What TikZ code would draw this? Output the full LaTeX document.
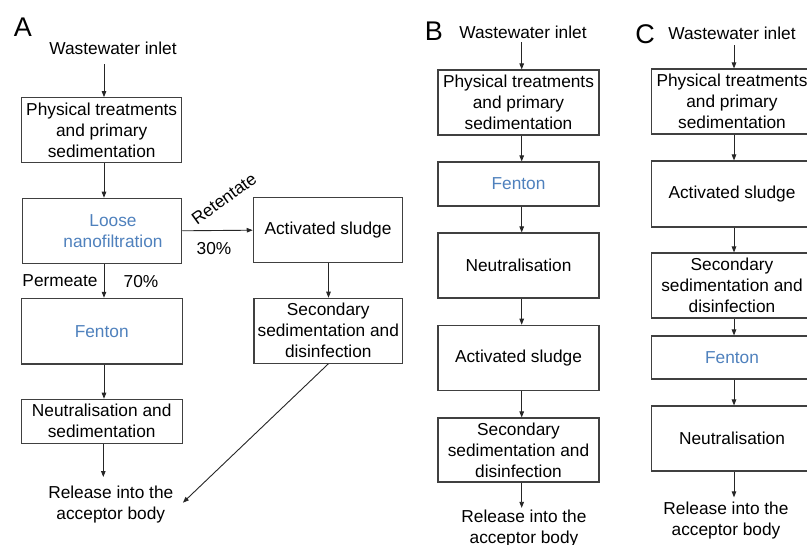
\documentclass[tikz,border=0pt]{standalone}
\usepackage{fontspec}
\setmainfont{Liberation Sans}
\usetikzlibrary{arrows.meta}
\definecolor{nfblue}{RGB}{79,129,189}
\begin{document}
\begin{tikzpicture}[x=1pt,y=-1pt,
  every node/.style={font=\fontsize{17.3}{21}\selectfont, inner sep=0pt, align=center},
  box/.style={draw=black!75, line width=1.1pt, rectangle},
  lbl/.style={font=\fontsize{27}{30}\selectfont},
  blue/.style={text=nfblue},
  arr/.style={-{Triangle[length=6pt,width=4.5pt]}, line width=0.9pt, draw=black!85}]
\useasboundingbox (0,0) rectangle (807,545);
\clip (0,0) rectangle (807,545);
\fill[white] (0,0) rectangle (807,545);

% ---------------- Panel A ----------------
\node[lbl] (labA) at (23,27.5) {A};
\node (inA) at (113,48) {Wastewater inlet};
\node[box, minimum width=160pt, minimum height=65pt] (A1) at (101.7,130.2) {Physical treatments\\and primary\\sedimentation};
\node[box, minimum width=159.4pt, minimum height=65pt] (A2) at (102,230.8) {};
\node[blue] (nfA) at (113,231.5) {Loose\\nanofiltration};
\node[box, minimum width=149.4pt, minimum height=65pt] (A3) at (328,230.2) {Activated sludge};
\node[box, minimum width=148.7pt, minimum height=65pt] (A4) at (328.3,330.8) {Secondary\\sedimentation and\\disinfection};
\node[box, minimum width=161.3pt, minimum height=65.7pt, blue] (A5) at (101.7,331.2) {Fenton};
\node[box, minimum width=161.3pt, minimum height=44pt] (A6) at (101.7,421.3) {Neutralisation and\\sedimentation};
\node (relA) at (110.8,505) {Release into the\\acceptor body};
\node[rotate=36] (retA) at (224,199) {Retentate};
\node (p30) at (214,249) {30\%};
\node (perm) at (60,281) {Permeate};
\node (p70) at (141,281.7) {70\%};

\draw[arr] ([xshift=-9pt,yshift=-9.7pt]inA.south) -- ([xshift=2.3pt]A1.north);
\draw[arr] ([xshift=2.3pt]A1.south) -- ([xshift=2pt]A2.north);
\draw[arr] (A2.east) -- (A3.west);
\draw[arr] ([xshift=0.5pt]A3.south) -- ([xshift=0.2pt]A4.north);
\draw[arr] ([xshift=2pt]A2.south) -- ([xshift=2.3pt]A5.north);
\draw[arr] ([xshift=2.3pt]A5.south) -- ([xshift=2.3pt]A6.north);
\draw[arr] ([xshift=1.6pt]A6.south) -- ([xshift=-7.5pt,yshift=9.2pt]relA.north);
\draw[arr] (A4.south) -- ([xshift=9.4pt,yshift=2.3pt]relA.east);

% ---------------- Panel B ----------------
\node[lbl] (labB) at (434,31) {B};
\node (inB) at (523,32) {Wastewater inlet};
\node[box, minimum width=161pt, minimum height=65pt] (B1) at (518.5,102.5) {Physical treatments\\and primary\\sedimentation};
\node[box, minimum width=161pt, minimum height=44pt, blue] (B2) at (518.5,184) {Fenton};
\node[box, minimum width=161pt, minimum height=65pt] (B3) at (518.5,265.5) {Neutralisation};
\node[box, minimum width=161pt, minimum height=65pt] (B4) at (518.5,357.8) {Activated sludge};
\node[box, minimum width=161pt, minimum height=64pt] (B5) at (518.5,450) {Secondary\\sedimentation and\\disinfection};
\node (relB) at (524,528.7) {Release into the\\acceptor body};

\draw[arr] ([xshift=-1.3pt,yshift=-3.7pt]inB.south) -- ([xshift=3.2pt]B1.north);
\draw[arr] ([xshift=3.2pt]B1.south) -- ([xshift=3.2pt]B2.north);
\draw[arr] ([xshift=3.2pt]B2.south) -- ([xshift=3.2pt]B3.north);
\draw[arr] ([xshift=3.2pt]B3.south) -- ([xshift=3.2pt]B4.north);
\draw[arr] ([xshift=3.2pt]B4.south) -- ([xshift=3.2pt]B5.north);
\draw[arr] ([xshift=3.2pt]B5.south) -- ([xshift=-2.3pt,yshift=2.1pt]relB.north);

% ---------------- Panel C ----------------
\node[lbl] (labC) at (645,34) {C};
\node (inC) at (732,33) {Wastewater inlet};
\node[box, minimum width=161pt, minimum height=65pt] (C1) at (732,101.5) {Physical treatments\\and primary\\sedimentation};
\node[box, minimum width=161pt, minimum height=66pt] (C2) at (732,194) {Activated sludge};
\node[box, minimum width=161pt, minimum height=65pt] (C3) at (732,285.5) {Secondary\\sedimentation and\\disinfection};
\node[box, minimum width=161pt, minimum height=43pt, blue] (C4) at (732,357.5) {Fenton};
\node[box, minimum width=161pt, minimum height=65pt] (C5) at (732,438.5) {Neutralisation};
\node (relC) at (726,520.7) {Release into the\\acceptor body};

\draw[arr] ([xshift=2pt,yshift=-5.7pt]inC.south) -- ([xshift=2pt]C1.north);
\draw[arr] ([xshift=2pt]C1.south) -- ([xshift=2pt]C2.north);
\draw[arr] ([xshift=2pt]C2.south) -- ([xshift=2pt]C3.north);
\draw[arr] ([xshift=2pt]C3.south) -- ([xshift=2pt]C4.north);
\draw[arr] ([xshift=2pt]C4.south) -- ([xshift=2pt]C5.north);
\draw[arr] ([xshift=2pt]C5.south) -- ([xshift=8pt,yshift=4.6pt]relC.north);
\end{tikzpicture}
\end{document}
